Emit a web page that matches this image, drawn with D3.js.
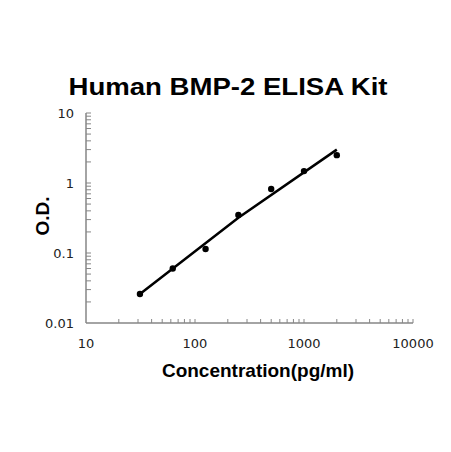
<!DOCTYPE html>
<html>
<head>
    <script src="https://d3js.org/d3.v7.min.js"></script>
    <style>
        body { margin: 0; background: #fff; }
        .tick-label { font: 13px "DejaVu Sans", sans-serif; fill: #222; }
        .title { font: bold 24px "Liberation Sans", Arial, sans-serif; }
        .axis-title { font: bold 19px "Liberation Sans", Arial, sans-serif; }
    </style>
</head>
<body>
    <script>
        // standard curve points
        var conc = [31.25, 62.5, 125, 250, 500, 1000, 2000];
        var od = [0.026, 0.06, 0.114, 0.35, 0.82, 1.48, 2.5];

        // fitted line
        var fitConc = [31.25, 250, 2000];
        var fitOd = [0.026, 0.32, 3.0];

        var xTicks = [10, 100, 1000, 10000];
        var yTicks = [0.01, 0.1, 1, 10];
        var yTickLabels = ["0.01", "0.1", "1", "10"];

        var width = 451, height = 452;
        var mLeft = 86, mRight = 413, mTop = 113, mBottom = 323;

        var svg = d3.select("body").append("svg")
            .attr("width", width)
            .attr("height", height);

        var x = d3.scaleLog().domain([10, 10000]).range([mLeft, mRight]);
        var y = d3.scaleLog().domain([0.01, 10]).range([mBottom, mTop]);

        // minor ticks for each decade
        var minorX = [], minorY = [];
        [10, 100, 1000].forEach(function(d) {
            for (var k = 2; k <= 10; k++) minorX.push(d * k);
        });
        [0.01, 0.1, 1].forEach(function(d) {
            for (var k = 2; k <= 10; k++) minorY.push(d * k);
        });

        var axisColor = "#868686";

        svg.selectAll(".xminor")
            .data(minorX)
            .enter().append("line")
            .attr("x1", function(d) { return x(d); })
            .attr("x2", function(d) { return x(d); })
            .attr("y1", mBottom)
            .attr("y2", mBottom - 4)
            .attr("stroke", axisColor)
            .attr("stroke-width", 1);

        svg.selectAll(".yminor")
            .data(minorY)
            .enter().append("line")
            .attr("y1", function(d) { return y(d); })
            .attr("y2", function(d) { return y(d); })
            .attr("x1", mLeft)
            .attr("x2", mLeft + 5)
            .attr("stroke", axisColor)
            .attr("stroke-width", 1);

        svg.append("line")
            .attr("x1", mLeft).attr("x2", mRight)
            .attr("y1", mBottom).attr("y2", mBottom)
            .attr("stroke", axisColor).attr("stroke-width", 1.5);

        svg.append("line")
            .attr("x1", mLeft).attr("x2", mLeft)
            .attr("y1", mTop).attr("y2", mBottom)
            .attr("stroke", axisColor).attr("stroke-width", 1.5);

        svg.selectAll(".xlab")
            .data(xTicks)
            .enter().append("text")
            .attr("class", "tick-label")
            .attr("x", function(d) { return x(d); })
            .attr("y", mBottom + 25)
            .attr("text-anchor", "middle")
            .text(function(d) { return d; });

        svg.selectAll(".ylab")
            .data(yTicks)
            .enter().append("text")
            .attr("class", "tick-label")
            .attr("x", mLeft - 12)
            .attr("y", function(d) { return y(d) + 5; })
            .attr("text-anchor", "end")
            .text(function(d, i) { return yTickLabels[i]; });

        var line = d3.line()
            .x(function(d) { return x(d[0]); })
            .y(function(d) { return y(d[1]); });

        svg.append("path")
            .datum(d3.zip(fitConc, fitOd))
            .attr("d", line)
            .attr("fill", "none")
            .attr("stroke", "#000")
            .attr("stroke-width", 2.5);

        svg.selectAll(".pt")
            .data(d3.zip(conc, od))
            .enter().append("circle")
            .attr("cx", function(d) { return x(d[0]); })
            .attr("cy", function(d) { return y(d[1]); })
            .attr("r", 3.2)
            .attr("fill", "#000");

        svg.append("text")
            .attr("class", "title")
            .attr("x", 228)
            .attr("y", 95)
            .attr("text-anchor", "middle")
            .attr("textLength", 319)
            .attr("lengthAdjust", "spacingAndGlyphs")
            .text("Human BMP-2 ELISA Kit");

        svg.append("text")
            .attr("class", "axis-title")
            .attr("x", 258)
            .attr("y", 377)
            .attr("text-anchor", "middle")
            .text("Concentration(pg/ml)");

        svg.append("text")
            .attr("class", "axis-title")
            .attr("transform", "translate(49,216) rotate(-90)")
            .attr("text-anchor", "middle")
            .text("O.D.");
    </script>
</body>
</html>
